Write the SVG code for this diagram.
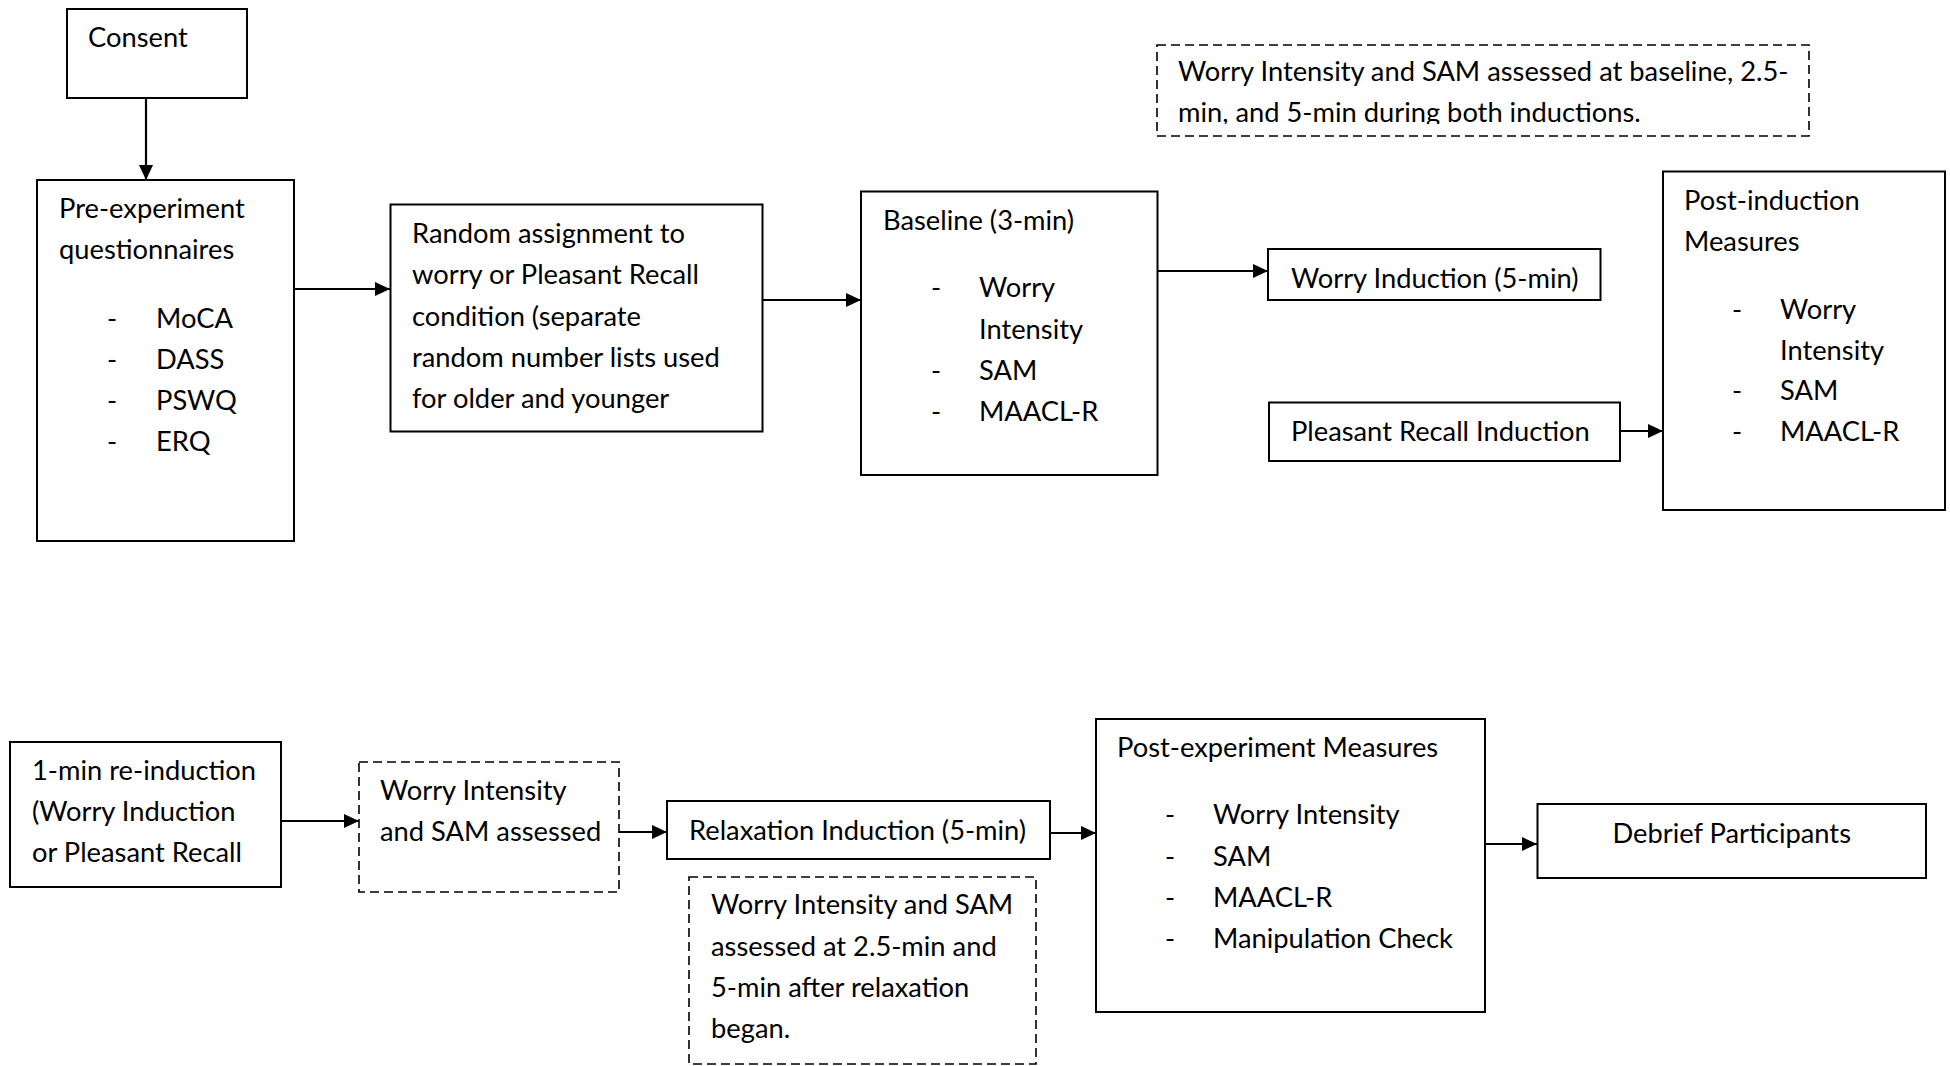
<svg xmlns="http://www.w3.org/2000/svg" width="1950" height="1066" viewBox="0 0 1950 1066">
<style>
  .box { fill: #ffffff; stroke: #000000; stroke-width: 2; }
  .dbox { fill: #ffffff; stroke: #000000; stroke-width: 1.6; stroke-dasharray: 9 5; }
  .t { font-family: "Lato", "Open Sans", sans-serif; font-size: 27.3px; fill: #000000; }
  .c { stroke: #000000; stroke-width: 2.2; fill: none; marker-end: url(#ah); }
</style>
<defs>
  <marker id="ah" markerUnits="userSpaceOnUse" markerWidth="16" markerHeight="15" refX="15" refY="7" orient="auto">
    <path d="M0,0 L15,7 L0,14 Z" fill="#000000"/>
  </marker>
  <clipPath id="noteclip"><rect x="1157" y="45" width="652" height="79"/></clipPath>
</defs>
<rect width="1950" height="1066" fill="#ffffff"/>

<g id="connectors">
  <path class="c" d="M146,98 V180"/>
  <path class="c" d="M292,289 H390"/>
  <path class="c" d="M762.5,300 H861"/>
  <path class="c" d="M1157.5,271 H1268"/>
  <path class="c" d="M1620,431 H1663"/>
  <path class="c" d="M281,821 H359"/>
  <path class="c" d="M619,832 H667"/>
  <path class="c" d="M1050,833 H1096"/>
  <path class="c" d="M1485,844 H1537"/>
</g>

<g id="consent">
  <rect class="box" x="67" y="9" width="180" height="89"/>
  <text class="t" x="88" y="47">Consent</text>
</g>

<g id="pre-experiment">
  <rect class="box" x="37" y="180" width="257" height="361"/>
  <text class="t" x="59" y="218">Pre-experiment</text>
  <text class="t" x="59" y="259">questionnaires</text>
  <text class="t" x="107" y="328">-</text><text class="t" x="156" y="328">MoCA</text>
  <text class="t" x="107" y="369">-</text><text class="t" x="156" y="369">DASS</text>
  <text class="t" x="107" y="410">-</text><text class="t" x="156" y="410">PSWQ</text>
  <text class="t" x="107" y="451">-</text><text class="t" x="156" y="451">ERQ</text>
</g>

<g id="random-assignment">
  <rect class="box" x="390.5" y="204.5" width="372" height="227"/>
  <text class="t" x="412" y="243">Random assignment to</text>
  <text class="t" x="412" y="284">worry or Pleasant Recall</text>
  <text class="t" x="412" y="325.5">condition (separate</text>
  <text class="t" x="412" y="367">random number lists used</text>
  <text class="t" x="412" y="408">for older and younger</text>
</g>

<g id="baseline">
  <rect class="box" x="861" y="191.5" width="296.5" height="283.5"/>
  <text class="t" x="883" y="230">Baseline (3-min)</text>
  <text class="t" x="931" y="297">-</text><text class="t" x="979" y="297">Worry</text>
  <text class="t" x="979" y="339">Intensity</text>
  <text class="t" x="931" y="379.5">-</text><text class="t" x="979" y="379.5">SAM</text>
  <text class="t" x="931" y="420.5">-</text><text class="t" x="979" y="420.5">MAACL-R</text>
</g>

<g id="assessment-note">
  <rect class="dbox" x="1157" y="45" width="652" height="91"/>
  <g clip-path="url(#noteclip)">
    <text class="t" x="1178" y="80.7">Worry Intensity and SAM assessed at baseline, 2.5-</text>
    <text class="t" x="1178" y="121.7">min, and 5-min during both inductions.</text>
  </g>
</g>

<g id="worry-induction">
  <rect class="box" x="1268" y="249" width="332.5" height="51"/>
  <text class="t" x="1291" y="287.5">Worry Induction (5-min)</text>
</g>

<g id="pleasant-recall">
  <rect class="box" x="1269" y="402.5" width="351" height="58.5"/>
  <text class="t" x="1291" y="440.5">Pleasant Recall Induction</text>
</g>

<g id="post-induction">
  <rect class="box" x="1663" y="171.5" width="282" height="338.5"/>
  <text class="t" x="1684" y="210">Post-induction</text>
  <text class="t" x="1684" y="251">Measures</text>
  <text class="t" x="1732" y="318.5">-</text><text class="t" x="1780" y="318.5">Worry</text>
  <text class="t" x="1780" y="359.5">Intensity</text>
  <text class="t" x="1732" y="400">-</text><text class="t" x="1780" y="400">SAM</text>
  <text class="t" x="1732" y="441">-</text><text class="t" x="1780" y="441">MAACL-R</text>
</g>

<g id="re-induction">
  <rect class="box" x="10" y="742" width="271" height="145"/>
  <text class="t" x="32" y="780">1-min re-induction</text>
  <text class="t" x="32" y="821">(Worry Induction</text>
  <text class="t" x="32" y="862">or Pleasant Recall</text>
</g>

<g id="reinduction-assessment">
  <rect class="dbox" x="359" y="762" width="260" height="130"/>
  <text class="t" x="380" y="800">Worry Intensity</text>
  <text class="t" x="380" y="841">and SAM assessed</text>
</g>

<g id="relaxation-induction">
  <rect class="box" x="667" y="801" width="383" height="58"/>
  <text class="t" x="689" y="840">Relaxation Induction (5-min)</text>
</g>

<g id="relaxation-note">
  <rect class="dbox" x="689" y="877" width="347" height="187"/>
  <text class="t" x="711" y="914">Worry Intensity and SAM</text>
  <text class="t" x="711" y="955.5">assessed at 2.5-min and</text>
  <text class="t" x="711" y="996.5">5-min after relaxation</text>
  <text class="t" x="711" y="1038">began.</text>
</g>

<g id="post-experiment">
  <rect class="box" x="1096" y="719" width="389" height="293"/>
  <text class="t" x="1117" y="757">Post-experiment Measures</text>
  <text class="t" x="1165" y="824">-</text><text class="t" x="1213" y="824">Worry Intensity</text>
  <text class="t" x="1165" y="865.5">-</text><text class="t" x="1213" y="865.5">SAM</text>
  <text class="t" x="1165" y="906.5">-</text><text class="t" x="1213" y="906.5">MAACL-R</text>
  <text class="t" x="1165" y="947.5">-</text><text class="t" x="1213" y="947.5">Manipulation Check</text>
</g>

<g id="debrief">
  <rect class="box" x="1537.5" y="804" width="388.5" height="74"/>
  <text class="t" x="1731.75" y="843" text-anchor="middle">Debrief Participants</text>
</g>
</svg>
